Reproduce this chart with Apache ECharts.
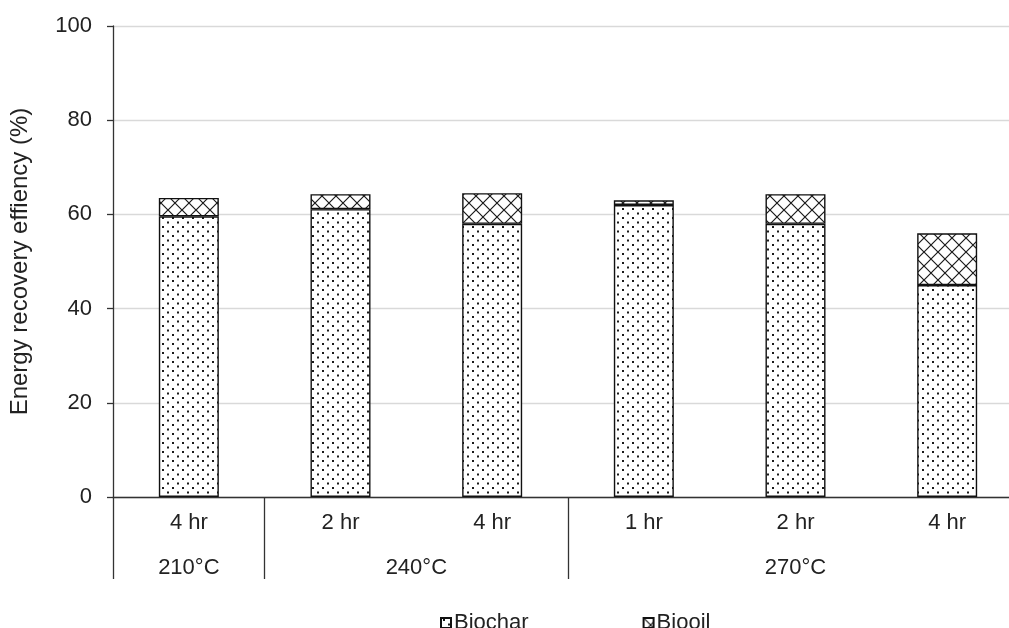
<!DOCTYPE html>
<html>
<head>
<meta charset="utf-8">
<script src="https://cdn.jsdelivr.net/npm/echarts@6/dist/echarts.min.js"></script>
<style>html,body{margin:0;padding:0;background:#fff;}#c{width:1009px;height:628px;}</style>
</head>
<body>
<div id="c"></div>
<script>
var categories = ['4 hr', '2 hr', '4 hr', '1 hr', '2 hr', '4 hr'];
var groupNames = ['210°C', '240°C', '270°C'];
var groupSpans = [1, 2, 3];
var biochar = [59.6, 61.1, 58.0, 62.0, 58.0, 45.0];
var biooil = [3.9, 3.2, 6.5, 1.0, 6.3, 11.0];
var yTicks = { min: 0, max: 100, interval: 20 };

function dotPattern() {
  var c = document.createElement('canvas');
  c.width = 10; c.height = 9;
  var g = c.getContext('2d');
  g.fillStyle = '#fff'; g.fillRect(0, 0, 10, 9);
  g.fillStyle = '#1a1a1a';
  g.fillRect(2, 1, 2, 2);
  g.fillRect(7, 5.5, 2, 2);
  return c;
}
function latticePattern() {
  var c = document.createElement('canvas');
  c.width = 14; c.height = 14;
  var g = c.getContext('2d');
  g.fillStyle = '#fff'; g.fillRect(0, 0, 14, 14);
  g.strokeStyle = '#1a1a1a'; g.lineWidth = 1.2;
  g.beginPath();
  g.moveTo(-1, -1); g.lineTo(15, 15);
  g.moveTo(15, -1); g.lineTo(-1, 15);
  g.stroke();
  return c;
}

var bounds = [0], centres = [];
groupSpans.forEach(function (s) {
  var start = bounds[bounds.length - 1];
  centres.push(start + s / 2);
  bounds.push(start + s);
});

var font = 'Liberation Sans, Arial, sans-serif';
var chart = echarts.init(document.getElementById('c'), null, { renderer: 'canvas' });
chart.setOption({
  animation: false,
  backgroundColor: '#fff',
  textStyle: { fontFamily: font },
  grid: { left: 113, width: 910, top: 26, bottom: 131, containLabel: false, outerBoundsMode: 'none' },
  legend: {
    left: 435, top: 607, itemWidth: 10, itemHeight: 10, itemGap: 114,
    icon: 'rect',
    textStyle: { fontFamily: font, fontSize: 22, color: '#222', padding: [0, 0, 0, -2] },
    data: ['Biochar', 'Biooil']
  },
  xAxis: [
    {
      type: 'category', data: categories,
      axisLine: { show: true, lineStyle: { color: '#333', width: 1.3 } },
      axisTick: { show: false },
      axisLabel: { fontFamily: font, fontSize: 22, color: '#222', margin: 15 },
      splitLine: { show: false }
    },
    {
      type: 'value', min: 0, max: categories.length, position: 'bottom',
      axisLine: { show: false },
      splitLine: { show: false },
      axisTick: { show: true, customValues: bounds, length: 82, lineStyle: { color: '#333', width: 1.3 } },
      axisLabel: {
        fontFamily: font, fontSize: 22, color: '#222', margin: 60,
        customValues: centres,
        formatter: function (v) { var i = centres.indexOf(v); return i >= 0 ? groupNames[i] : ''; }
      }
    }
  ],
  yAxis: {
    type: 'value', min: yTicks.min, max: yTicks.max, interval: yTicks.interval,
    name: 'Energy recovery effiency (%)', nameLocation: 'middle', nameGap: 81,
    nameTextStyle: { fontFamily: font, fontSize: 24, color: '#222' },
    axisLine: { show: true, lineStyle: { color: '#333', width: 1.3 } },
    axisTick: { show: true, length: 6, lineStyle: { color: '#333', width: 1.3 } },
    axisLabel: { fontFamily: font, fontSize: 22, color: '#222', margin: 21 },
    splitLine: { lineStyle: { color: '#d9d9d9', width: 1.3 } }
  },
  series: [
    {
      name: 'Biochar', type: 'bar', stack: 'e', data: biochar, barWidth: 60,
      itemStyle: { color: { image: dotPattern(), repeat: 'repeat' }, borderColor: '#111', borderWidth: 1.4 }
    },
    {
      name: 'Biooil', type: 'bar', stack: 'e', data: biooil, barWidth: 60,
      itemStyle: { color: { image: latticePattern(), repeat: 'repeat' }, borderColor: '#111', borderWidth: 1.4 }
    }
  ]
});
</script>
</body>
</html>
